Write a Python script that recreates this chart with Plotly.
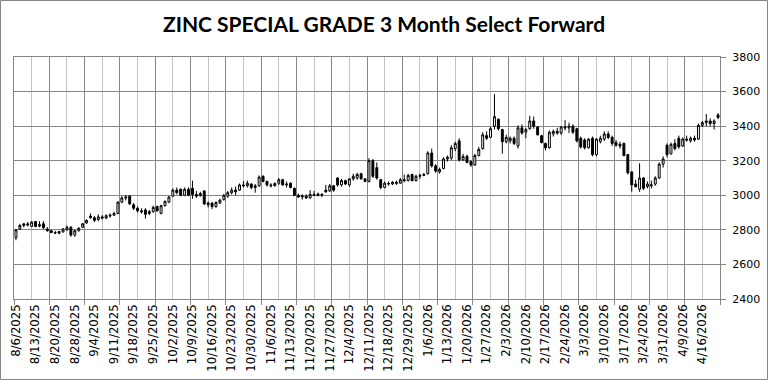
import pandas as pd
import plotly.graph_objects as go

# ---- data ----
holidays = ["2025-08-25", "2025-12-25", "2025-12-26", "2026-01-01", "2026-04-03", "2026-04-06"]
days = pd.bdate_range("2025-08-06", "2026-04-22")
days = [d for d in days if d.strftime("%Y-%m-%d") not in holidays]
dates = [f"{d.month}/{d.day}/{d.year}" for d in days]

open_ = [2755, 2805, 2825, 2835, 2820, 2848, 2830, 2835, 2805, 2795,
         2785, 2780, 2788, 2800, 2815, 2770, 2795, 2815, 2840, 2880,
         2870, 2860, 2875, 2868, 2880, 2885, 2895, 2960, 2985, 2995,
         2945, 2925, 2910, 2915, 2895, 2905, 2935, 2895, 2940, 2960,
         2995, 3030, 3035, 3000, 3035, 3040, 3005, 2998, 3025, 2945,
         2955, 2935, 2955, 2975, 2995, 3015, 3030, 3030, 3060, 3055,
         3065, 3045, 3055, 3110, 3080, 3060, 3055, 3070, 3090, 3060,
         3070, 3040, 3000, 2990, 2995, 2985, 3005, 2998, 3005, 3030,
         3025, 3055, 3100, 3060, 3085, 3060, 3095, 3100, 3125, 3095,
         3080, 3200, 3160, 3090, 3045, 3065, 3065, 3075, 3070, 3090,
         3085, 3120, 3085, 3110, 3115, 3125, 3245, 3170, 3135, 3155,
         3210, 3215, 3270, 3315, 3205, 3225, 3195, 3175, 3230, 3270,
         3345, 3335, 3400, 3440, 3380, 3310, 3315, 3330, 3285, 3390,
         3365, 3385, 3430, 3395, 3345, 3300, 3275, 3355, 3370, 3360,
         3395, 3390, 3400, 3385, 3330, 3320, 3275, 3330, 3235, 3310,
         3325, 3355, 3335, 3305, 3295, 3300, 3235, 3135, 3065, 3035,
         3100, 3050, 3055, 3065, 3100, 3180, 3290, 3240, 3300, 3330,
         3285, 3325, 3315, 3330, 3325, 3405, 3420, 3430, 3415, 3465]
high = [2805, 2835, 2840, 2845, 2850, 2852, 2850, 2850, 2815, 2800,
        2795, 2795, 2810, 2825, 2822, 2800, 2815, 2840, 2860, 2895,
        2880, 2890, 2885, 2890, 2895, 2905, 2965, 2995, 3000, 3000,
        2955, 2935, 2925, 2925, 2915, 2940, 2940, 2945, 2970, 2995,
        3040, 3045, 3040, 3045, 3045, 3085, 3025, 3020, 3030, 2965,
        2960, 2965, 2980, 3008, 3025, 3045, 3050, 3068, 3082, 3085,
        3070, 3065, 3115, 3115, 3085, 3070, 3075, 3100, 3095, 3080,
        3075, 3045, 3010, 3005, 3005, 3030, 3025, 3015, 3012, 3060,
        3065, 3060, 3105, 3095, 3090, 3100, 3125, 3130, 3130, 3100,
        3215, 3210, 3190, 3095, 3080, 3080, 3082, 3085, 3100, 3120,
        3125, 3125, 3120, 3125, 3130, 3255, 3270, 3180, 3160, 3220,
        3230, 3290, 3310, 3330, 3240, 3235, 3200, 3240, 3280, 3365,
        3370, 3395, 3585, 3445, 3385, 3350, 3340, 3340, 3405, 3410,
        3390, 3460, 3455, 3400, 3350, 3305, 3375, 3380, 3390, 3400,
        3435, 3420, 3410, 3390, 3340, 3330, 3330, 3340, 3330, 3345,
        3370, 3370, 3345, 3320, 3310, 3305, 3240, 3140, 3090, 3185,
        3105, 3080, 3085, 3110, 3190, 3225, 3300, 3305, 3325, 3345,
        3335, 3345, 3340, 3345, 3415, 3430, 3470, 3445, 3440, 3475]
low = [2740, 2800, 2815, 2820, 2815, 2815, 2815, 2805, 2790, 2780,
       2775, 2775, 2785, 2795, 2760, 2760, 2790, 2810, 2835, 2865,
       2845, 2850, 2860, 2862, 2870, 2880, 2890, 2955, 2970, 2945,
       2915, 2900, 2895, 2865, 2885, 2900, 2905, 2890, 2935, 2955,
       2990, 3005, 2995, 2995, 2995, 2980, 2985, 2992, 2945, 2930,
       2920, 2928, 2950, 2970, 2985, 3005, 3000, 3025, 3045, 3045,
       3035, 3015, 3050, 3075, 3050, 3045, 3050, 3060, 3055, 3045,
       3040, 2995, 2985, 2975, 2978, 2980, 2995, 2995, 2990, 3015,
       3020, 3020, 3050, 3050, 3060, 3050, 3085, 3090, 3090, 3075,
       3075, 3100, 3090, 3035, 3040, 3055, 3060, 3060, 3065, 3075,
       3080, 3080, 3080, 3095, 3110, 3120, 3160, 3130, 3125, 3150,
       3195, 3205, 3255, 3195, 3200, 3185, 3165, 3170, 3225, 3265,
       3320, 3330, 3380, 3375, 3240, 3300, 3300, 3290, 3270, 3350,
       3330, 3380, 3385, 3345, 3300, 3260, 3270, 3340, 3350, 3350,
       3375, 3360, 3355, 3305, 3270, 3265, 3270, 3225, 3225, 3300,
       3315, 3325, 3285, 3280, 3270, 3225, 3120, 3020, 3045, 3020,
       3030, 3040, 3040, 3055, 3095, 3160, 3220, 3235, 3260, 3270,
       3280, 3310, 3305, 3310, 3320, 3395, 3400, 3400, 3380, 3440]
close = [2800, 2825, 2835, 2828, 2845, 2820, 2822, 2812, 2795, 2785,
         2782, 2790, 2805, 2815, 2770, 2795, 2810, 2835, 2855, 2870,
         2855, 2875, 2868, 2882, 2885, 2895, 2960, 2985, 2990, 2950,
         2925, 2910, 2905, 2890, 2905, 2930, 2910, 2940, 2965, 2990,
         3030, 3015, 3000, 3035, 3000, 3005, 2995, 3010, 2950, 2955,
         2935, 2958, 2972, 3000, 3015, 3030, 3020, 3060, 3055, 3070,
         3045, 3055, 3105, 3080, 3060, 3055, 3068, 3090, 3060, 3065,
         3045, 3000, 2990, 2995, 2985, 3005, 3000, 3008, 3002, 3020,
         3055, 3030, 3060, 3085, 3065, 3095, 3110, 3120, 3095, 3080,
         3200, 3110, 3100, 3045, 3070, 3068, 3075, 3070, 3090, 3085,
         3115, 3085, 3110, 3115, 3120, 3245, 3170, 3140, 3150, 3210,
         3220, 3275, 3300, 3205, 3225, 3190, 3175, 3230, 3265, 3350,
         3330, 3385, 3455, 3385, 3310, 3335, 3330, 3300, 3390, 3360,
         3380, 3430, 3400, 3350, 3305, 3275, 3365, 3370, 3360, 3395,
         3390, 3400, 3365, 3315, 3280, 3275, 3325, 3235, 3325, 3330,
         3355, 3335, 3300, 3290, 3285, 3230, 3130, 3060, 3050, 3100,
         3040, 3065, 3060, 3100, 3180, 3210, 3235, 3295, 3270, 3280,
         3325, 3320, 3330, 3320, 3405, 3420, 3430, 3415, 3430, 3450]

tick_labels = ["8/6/2025", "8/13/2025", "8/20/2025", "8/28/2025", "9/4/2025", "9/11/2025",
               "9/18/2025", "9/25/2025", "10/2/2025", "10/9/2025", "10/16/2025", "10/23/2025",
               "10/30/2025", "11/6/2025", "11/13/2025", "11/20/2025", "11/27/2025", "12/4/2025",
               "12/11/2025", "12/18/2025", "12/29/2025", "1/6/2026", "1/13/2026", "1/20/2026",
               "1/27/2026", "2/3/2026", "2/10/2026", "2/17/2026", "2/24/2026", "3/3/2026",
               "3/10/2026", "3/17/2026", "3/24/2026", "3/31/2026", "4/9/2026", "4/16/2026"]

title_text = "ZINC SPECIAL GRADE 3 Month Select Forward"

DARK = "#868686"
LIGHT = "#c4c4c4"

fig = go.Figure()
fig.add_trace(go.Candlestick(
    x=dates, open=open_, high=high, low=low, close=close,
    increasing=dict(line=dict(color="black", width=1), fillcolor="white"),
    decreasing=dict(line=dict(color="black", width=1), fillcolor="black"),
    whiskerwidth=0, showlegend=False, hoverinfo="skip",
))

W, H = 768, 380
ML, MR, MT, MB = 14, 48, 57, 81
pw, ph = W - ML - MR, H - MT - MB

fig.update_layout(
    width=W, height=H,
    margin=dict(l=ML, r=MR, t=MT, b=MB, pad=0, autoexpand=False),
    paper_bgcolor="white", plot_bgcolor="white",
    title=dict(text=f"<b>{title_text}</b>", x=0.5, xanchor="center", y=1 - 25 / H, yanchor="middle",
               font=dict(family="Lato", size=21, color="black")),
    xaxis=dict(type="category", tickmode="array", tickvals=tick_labels, ticktext=tick_labels,
               tickangle=-90, showgrid=False, ticks="", showline=False, automargin=False,
               rangeslider=dict(visible=False), ticklabelstandoff=2,
               tickfont=dict(family="DejaVu Sans", size=11.7, color="black")),
    xaxis2=dict(overlaying="x", anchor="y", side="bottom", range=[0, 40], dtick=2, tick0=0,
                showticklabels=False, showgrid=True, gridcolor=DARK, gridwidth=1,
                ticks="outside", ticklen=5, tickcolor=DARK, automargin=False,
                minor=dict(dtick=1, showgrid=True, gridcolor=LIGHT, gridwidth=1),
                showline=True, linecolor=DARK, mirror=True, zeroline=False),
    yaxis=dict(side="right", range=[2400, 3800], dtick=200, tick0=2400, automargin=False,
               showgrid=True, gridcolor=DARK, ticks="outside", ticklen=5, tickcolor=DARK,
               showline=True, linecolor=DARK, mirror=True, zeroline=False,
               ticklabelstandoff=4,
               tickfont=dict(family="DejaVu Sans", size=11, color="black")),
)

fig.add_trace(go.Scatter(x=[None], y=[None], xaxis="x2", yaxis="y", showlegend=False, hoverinfo="skip"))

# outer border of the whole chart
fig.add_shape(type="rect", xref="paper", yref="paper",
              x0=(-ML + 0.5) / pw, x1=1 + (MR - 0.5) / pw,
              y0=(-MB + 0.5) / ph, y1=1 + (MT - 0.5) / ph,
              line=dict(color=DARK, width=1), fillcolor="rgba(0,0,0,0)", layer="above")

fig.write_html("out.html", config={"displayModeBar": False, "staticPlot": True},
               post_script="document.body.style.margin='0';document.body.style.overflow='hidden';")
